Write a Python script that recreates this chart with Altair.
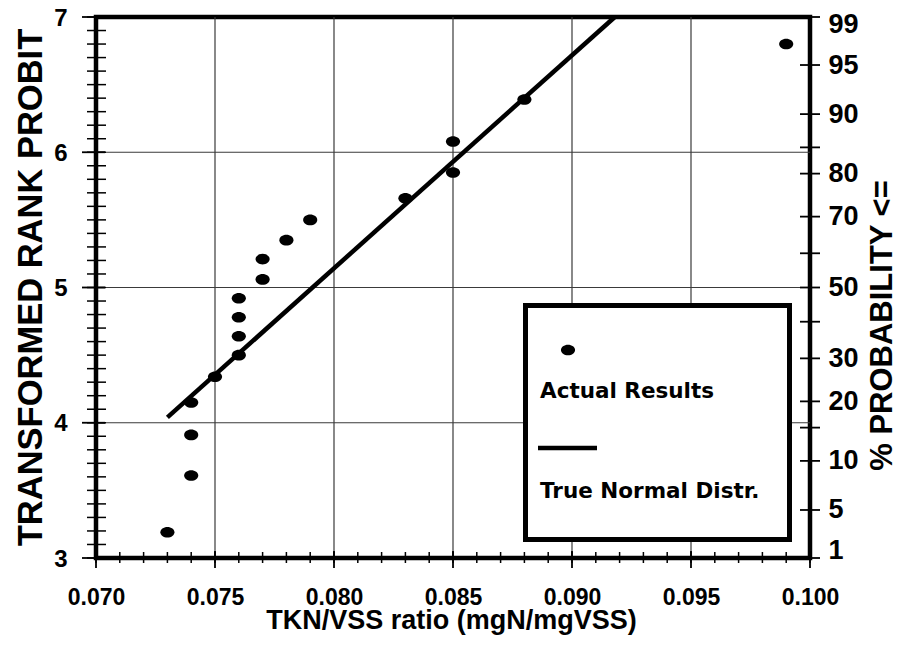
import altair as alt
import pandas as pd

# ---- data ----
x_vals = [0.073, 0.074, 0.074, 0.074, 0.075, 0.076, 0.076, 0.076, 0.076,
          0.077, 0.077, 0.078, 0.079, 0.083, 0.085, 0.085, 0.088, 0.099]
y_vals = [3.19, 3.61, 3.91, 4.15, 4.34, 4.50, 4.64, 4.78, 4.92,
          5.06, 5.21, 5.35, 5.50, 5.66, 5.85, 6.08, 6.39, 6.80]

fit_x = [0.073, 0.0918]
fit_y = [4.04, 7.0]

x_major = [0.070, 0.075, 0.080, 0.085, 0.090, 0.095, 0.100]
x_minor = [0.070, 0.071, 0.072, 0.073, 0.074, 0.075, 0.076, 0.077, 0.078, 0.079,
           0.080, 0.081, 0.082, 0.083, 0.084, 0.085, 0.086, 0.087, 0.088, 0.089,
           0.090, 0.091, 0.092, 0.093, 0.094, 0.095, 0.096, 0.097, 0.098, 0.099, 0.100]
y_major = [3, 4, 5, 6, 7]
y_minor = [3.0, 3.1, 3.2, 3.3, 3.4, 3.5, 3.6, 3.7, 3.8, 3.9,
           4.0, 4.1, 4.2, 4.3, 4.4, 4.5, 4.6, 4.7, 4.8, 4.9,
           5.0, 5.1, 5.2, 5.3, 5.4, 5.5, 5.6, 5.7, 5.8, 5.9,
           6.0, 6.1, 6.2, 6.3, 6.4, 6.5, 6.6, 6.7, 6.8, 6.9, 7.0]
grid_x = [0.075, 0.080, 0.085, 0.090, 0.095]
grid_y = [4, 5, 6]

prob_labels = ["1", "5", "10", "", "20", "30", "", "50", "", "70", "80", "", "90", "95", "99"]
prob_probits = [3.0, 3.355, 3.718, 3.964, 4.158, 4.476, 4.747, 5.0, 5.253, 5.524,
                5.842, 6.036, 6.282, 6.645, 7.0]

legend_labels = ["Actual Results", "True Normal Distr."]

X_DOMAIN = [0.070, 0.100]
Y_DOMAIN = [3, 7]

FONT = "Liberation Sans"
ELLIPSE = "M-1,0A1,0.75,0,1,1,1,0A1,0.75,0,1,1,-1,0Z"
W, H = 714, 541
TICK_COLOR = "black"

pts = pd.DataFrame({"x": x_vals, "y": y_vals})
fit = pd.DataFrame({"x": fit_x, "y": fit_y})

xs = alt.Scale(domain=X_DOMAIN, nice=False, zero=False)
ys = alt.Scale(domain=Y_DOMAIN, nice=False, zero=False)

grid_v = alt.Chart(pd.DataFrame({"x": grid_x})).mark_rule(
    color="#3a3a3a", strokeWidth=1.2
).encode(x=alt.X("x:Q", scale=xs, axis=None))

grid_h = alt.Chart(pd.DataFrame({"y": grid_y})).mark_rule(
    color="#3a3a3a", strokeWidth=1.2
).encode(y=alt.Y("y:Q", scale=ys, axis=None))

fit_line = alt.Chart(fit).mark_line(color="black", strokeWidth=4.5).encode(
    x=alt.X("x:Q", scale=xs, axis=None),
    y=alt.Y("y:Q", scale=ys, axis=None),
)

points = alt.Chart(pts).mark_point(
    filled=True, color="black", opacity=1, size=200, shape=ELLIPSE
).encode(
    x=alt.X("x:Q", scale=xs, axis=None),
    y=alt.Y("y:Q", scale=ys, axis=None),
)

def xticks(vals, top, bottom, width):
    return alt.Chart(pd.DataFrame({"x": vals})).mark_rule(
        color=TICK_COLOR, strokeWidth=width
    ).encode(x=alt.X("x:Q", scale=xs, axis=None),
             y=alt.value(H + top), y2=alt.value(H + bottom))

def yticks(vals, left, right, width):
    return alt.Chart(pd.DataFrame({"y": vals})).mark_rule(
        color=TICK_COLOR, strokeWidth=width
    ).encode(y=alt.Y("y:Q", scale=ys, axis=None),
             x=alt.value(left), x2=alt.value(right))

x_minor_ticks = xticks(x_minor, -6, 5, 1.5)
x_major_ticks = xticks(x_major, -7, 10, 1.8)
y_minor_ticks = yticks(y_minor, -9, 10, 1.5)
y_major_ticks = yticks(y_major, -14, 9, 1.8)
r_ticks = yticks(prob_probits, W - 10, W + 10, 1.8)

base = alt.Chart(pts).mark_point(opacity=0)

x_main = base.encode(
    x=alt.X("x:Q", scale=xs, axis=alt.Axis(
        orient="bottom", values=x_major, format=".3f", domain=False, grid=False,
        tickSize=10, tickOpacity=0, offset=0,
        labelFont=FONT, labelFontSize=23, labelFontWeight="bold", labelColor="black",
        labelPadding=18, labelFlush=False,
        title="TKN/VSS ratio (mgN/mgVSS)", titleFont=FONT, titleFontSize=27,
        titleFontWeight="bold", titleColor="black", titleX=355, titleY=70,
        titleAlign="center", titleBaseline="alphabetic")),
    y=alt.Y("y:Q", scale=ys, axis=None),
)

y_main = base.encode(
    x=alt.X("x:Q", scale=xs, axis=None),
    y=alt.Y("y:Q", scale=ys, axis=alt.Axis(
        orient="left", values=y_major, format="d", domain=False, grid=False,
        tickSize=14, tickOpacity=0, offset=0,
        labelFont=FONT, labelFontSize=24, labelFontWeight="bold", labelColor="black",
        labelPadding=15, labelOffset=1,
        title="TRANSFORMED RANK PROBIT", titleFont=FONT, titleFontSize=34.5,
        titleFontWeight="bold", titleColor="black", titleAngle=270,
        titleX=-65, titleY=270, titleAlign="center", titleBaseline="middle")),
)

lab_arr = "[" + ",".join("'" + s + "'" for s in prob_labels) + "]"
pos_arr = "[" + ",".join(str(v) for v in prob_probits) + "]"

y_right = base.encode(
    x=alt.X("x:Q", scale=xs, axis=None),
    y=alt.Y("y:Q", scale=ys, axis=alt.Axis(
        orient="right", values=prob_probits,
        labelExpr=lab_arr + "[indexof(" + pos_arr + ", datum.value)]",
        domain=False, grid=False,
        tickSize=10, tickOpacity=0, offset=0,
        labelFont=FONT, labelFontSize=27, labelFontWeight="bold", labelColor="black",
        labelPadding=8, labelFlush=True, labelFlushOffset=6,
        title="% PROBABILITY <=", titleFont=FONT, titleFontSize=31,
        titleFontWeight="bold", titleColor="black", titleAngle=270,
        titleX=72, titleY=308, titleAlign="center", titleBaseline="middle")),
)

one = pd.DataFrame({"k": [0]})
leg_box = alt.Chart(one).mark_rect(fill="white", stroke="black", strokeWidth=5).encode(
    x=alt.value(429.5), x2=alt.value(693.5), y=alt.value(288.5), y2=alt.value(522.5)
)
leg_dot = alt.Chart(one).mark_point(
    filled=True, color="black", opacity=1, size=200, shape=ELLIPSE
).encode(x=alt.value(472), y=alt.value(333))
leg_t1 = alt.Chart(pd.DataFrame({"t": [legend_labels[0]]})).mark_text(
    align="left", baseline="alphabetic", font="DejaVu Sans", fontSize=21.5,
    fontWeight="bold", color="black"
).encode(x=alt.value(444), y=alt.value(381), text="t:N")
leg_line = alt.Chart(one).mark_rule(color="black", strokeWidth=4.5).encode(
    x=alt.value(442), x2=alt.value(501), y=alt.value(431)
)
leg_t2 = alt.Chart(pd.DataFrame({"t": [legend_labels[1]]})).mark_text(
    align="left", baseline="alphabetic", font="DejaVu Sans", fontSize=21.5,
    fontWeight="bold", color="black"
).encode(x=alt.value(444), y=alt.value(481), text="t:N")

chart = alt.layer(
    grid_v, grid_h, fit_line, points,
    x_main, y_main, y_right,
    leg_box, leg_dot, leg_t1, leg_line, leg_t2,
    x_minor_ticks, x_major_ticks, y_minor_ticks, y_major_ticks, r_ticks,
).resolve_axis(
    x="independent", y="independent"
).properties(
    width=W, height=H,
    padding={"left": 88, "top": 9, "right": 90, "bottom": 78},
    autosize=alt.AutoSizeParams(type="none"),
    background="white",
).configure_view(
    stroke="black", strokeWidth=4.5
)

chart.save("out.html", embed_options={"renderer": "svg", "actions": False})
